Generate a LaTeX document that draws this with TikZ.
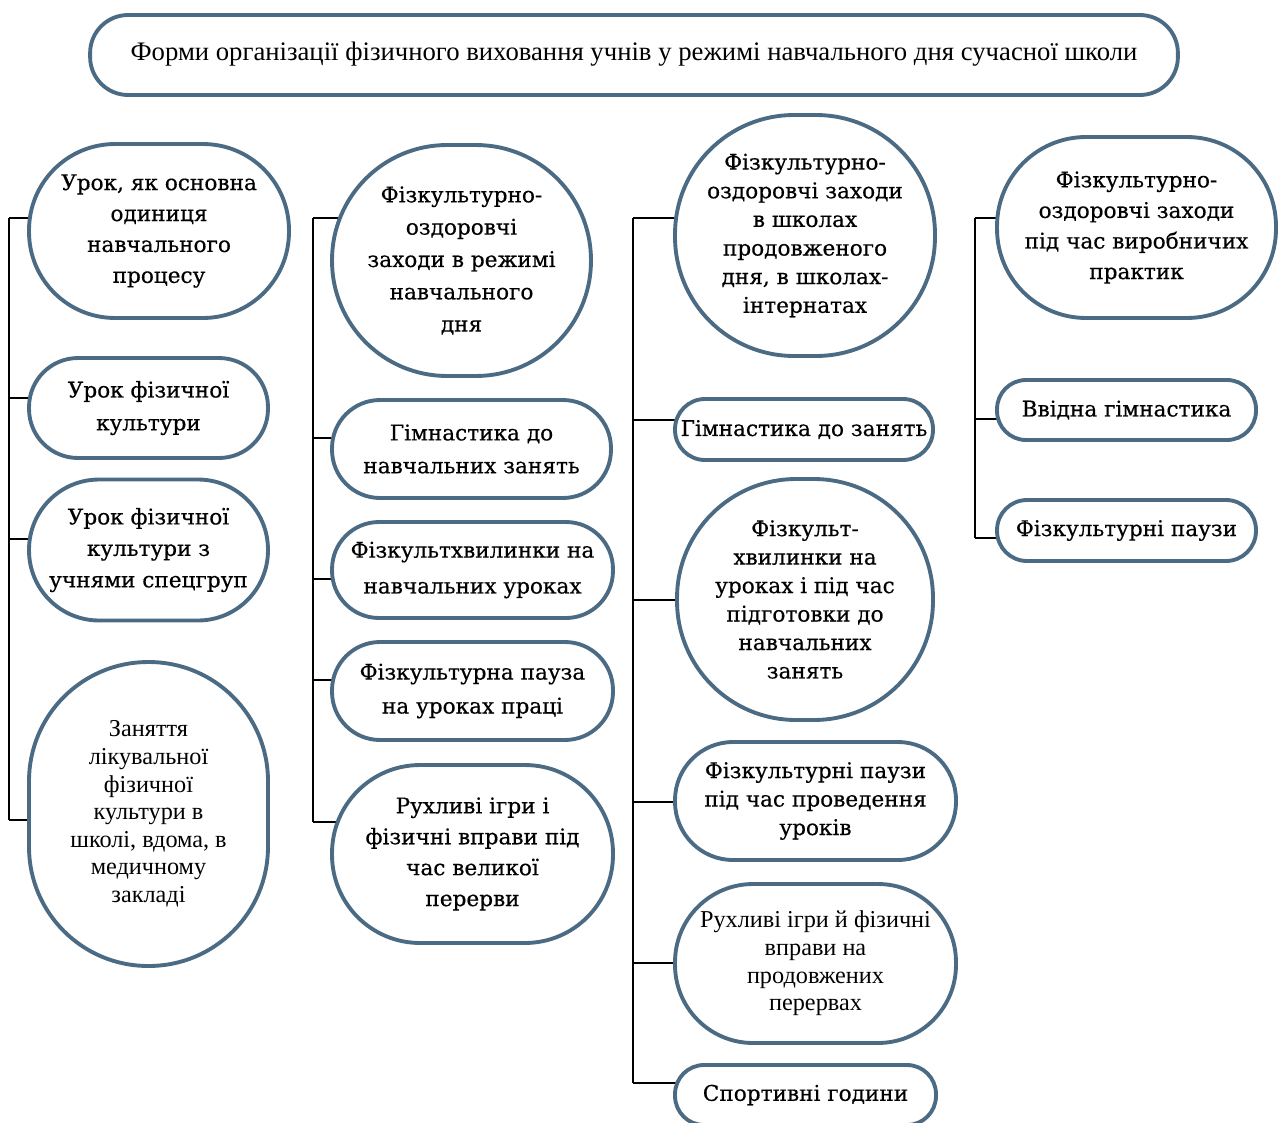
\documentclass[tikz,border=0pt]{standalone}
\usepackage{fontspec}
\setmainfont{Liberation Serif}
\newfontfamily\courf[FakeBold=0.5]{DejaVu Serif}
\newfontfamily\tmsf{Liberation Serif}
\usetikzlibrary{calc}
\definecolor{bcol}{RGB}{75,106,131}
\pgfdeclarelayer{bg}
\pgfsetlayers{bg,main}
\begin{document}
\begin{tikzpicture}[x=0.02cm,y=-0.02cm,
  box/.style={draw=bcol,line width=2.2pt,fill=white,align=center,inner sep=0pt},
  sz/.style n args={3}{minimum width=#1cm,minimum height=#2cm,rounded corners=#3cm},
  cour/.style={font=\courf\fontsize{12.3}{#1}\selectfont},
  tms/.style={font=\tmsf\fontsize{13.8}{#1}\selectfont},
  link/.style={draw=black,line width=0.8pt}]
\useasboundingbox (0,0) rectangle (1280,1122);

% title
\node[box,sz={21.76}{1.6}{0.76},font=\tmsf\fontsize{15.2}{17}\selectfont] (top) at (634,55)
  {\raisebox{4pt}{Форми організації фізичного виховання учнів у режимі навчального дня сучасної школи}};

% column 1
\node[box,sz={5.2}{3.48}{1.72},cour=17.6pt] (b11) at (159,231) {Урок, як основна\\одиниця\\навчального\\процесу};
\node[box,sz={4.78}{2.0}{0.98},cour=18.7pt] (b12) at (148.5,408) {Урок фізичної\\культури};
\node[box,sz={4.78}{2.82}{1.4},cour=17.9pt] (b13) at (148.5,550) {Урок фізичної\\культури з\\учнями спецгруп};
\node[box,sz={4.78}{6.08}{2.38},tms=15.7pt] (b14) at (148.5,814) {Заняття\\лікувальної\\фізичної\\культури в\\школі, вдома, в\\медичному\\закладі};

% column 2
\node[box,sz={5.18}{4.62}{2.3},cour=18.4pt] (b21) at (461.5,260.5) {Фізкультурно-\\оздоровчі\\заходи в режимі\\навчального\\дня};
\node[box,sz={5.58}{1.96}{0.96},cour=18.7pt] (b22) at (471.5,449) {Гімнастика до\\навчальних занять};
\node[box,sz={5.62}{1.92}{0.94},cour=20.4pt] (b23) at (472.5,570) {Фізкультхвилинки на\\навчальних уроках};
\node[box,sz={5.62}{1.96}{0.96},cour=19.3pt] (b24) at (472.5,691) {Фізкультурна пауза\\на уроках праці};
\node[box,sz={5.62}{3.56}{1.76},cour=17.6pt] (b25) at (472.5,854) {Рухливі ігри і\\фізичні вправи під\\час великої\\перерви};

% column 3
\node[box,sz={5.2}{4.82}{2.38},cour=16.3pt] (b31) at (805,235.5) {Фізкультурно-\\оздоровчі заходи\\в школах\\продовженого\\дня, в школах-\\інтернатах};
\node[box,sz={5.16}{1.22}{0.6},cour=16pt] (b32) at (804,429.5) {Гімнастика до занять};
\node[box,sz={5.12}{4.82}{2.38},cour=16.2pt] (b33) at (805,599.5) {Фізкульт-\\хвилинки на\\уроках і під час\\підготовки до\\навчальних\\занять};
\node[box,sz={5.62}{2.36}{1.16},cour=16.2pt] (b34) at (815.5,801) {Фізкультурні паузи\\під час проведення\\уроків};
\node[box,sz={5.62}{3.18}{1.56},tms=15.7pt] (b35) at (815.5,963.5) {Рухливі ігри й фізичні\\вправи на\\продовжених\\перервах};
\node[box,sz={5.22}{1.2}{0.58},cour=16pt] (b36) at (805.5,1095) {Спортивні години};

% column 4
\node[box,sz={5.58}{3.62}{1.78},cour=17.4pt] (b41) at (1136.5,227.5) {Фізкультурно-\\оздоровчі заходи\\під час виробничих\\практик};
\node[box,sz={5.18}{1.2}{0.58},cour=16pt] (b42) at (1126.5,410) {Ввідна гімнастика};
\node[box,sz={5.18}{1.22}{0.6},cour=16pt] (b43) at (1126.5,530.5) {Фізкультурні паузи};

% connectors
\coordinate (k11) at (9,218);  \coordinate (k12) at (9,398);
\coordinate (k13) at (9,539);  \coordinate (k14) at (9,820);
\coordinate (k21) at (313,218); \coordinate (k22) at (313,438);
\coordinate (k23) at (313,579); \coordinate (k24) at (313,680);
\coordinate (k25) at (313,822);
\coordinate (k31) at (633,218); \coordinate (k32) at (633,420);
\coordinate (k33) at (633,600); \coordinate (k34) at (633,802);
\coordinate (k35) at (633,963); \coordinate (k36) at (633,1083);
\coordinate (k41) at (975,218); \coordinate (k42) at (975,419);
\coordinate (k43) at (975,538);
\begin{pgfonlayer}{bg}
\draw[link] (k11) -- (k14);
\draw[link] (k21) -- (k25);
\draw[link] (k31) -- (k36);
\draw[link] (k41) -- (k43);
\foreach \k/\b in {k11/b11,k12/b12,k13/b13,k14/b14,
                   k21/b21,k22/b22,k23/b23,k24/b24,k25/b25,
                   k31/b31,k32/b32,k33/b33,k34/b34,k35/b35,k36/b36,
                   k41/b41,k42/b42,k43/b43}
  \draw[link] (\k) -- (\k -| \b.center);
\end{pgfonlayer}
\end{tikzpicture}
\end{document}
